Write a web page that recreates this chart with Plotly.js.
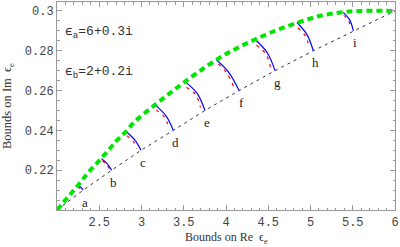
<!DOCTYPE html>
<html>
<head>
<meta charset="utf-8">
<script src="https://cdn.plot.ly/plotly-3.0.1.min.js"></script>
<style>
  html, body { margin: 0; padding: 0; background: #fff; }
  #grafico { width: 400px; height: 247px; }
</style>
</head>
<body>
<div id="grafico"></div>
<script>
// Curva verde (limite superior)
const verdeRe = [2.0, 2.134, 2.252, 2.370, 2.489, 2.607, 2.707, 2.805, 2.923, 3.160, 3.397, 3.653, 3.929, 4.166, 4.402, 4.639, 4.876, 5.112, 5.349, 5.586, 6.0];
const verdeIm = [0.2, 0.2067, 0.2126, 0.2188, 0.2243, 0.2299, 0.2349, 0.2389, 0.2445, 0.2528, 0.2607, 0.2687, 0.2766, 0.2821, 0.2868, 0.2910, 0.2945, 0.2975, 0.2992, 0.3, 0.3];

// Curva tracejada (limite inferior), pontos a..i incluídos
const inferiorRe = [2.0, 2.311, 2.647, 2.994, 3.376, 3.751, 4.155, 4.580, 5.033, 5.507, 6.0];
const inferiorIm = [0.2, 0.21, 0.22, 0.23, 0.24, 0.25, 0.26, 0.27, 0.28, 0.29, 0.3];

const letras = ['a', 'b', 'c', 'd', 'e', 'f', 'g', 'h', 'i'];

// Arcos azuis (topo, meio, fim)
const azulRe = [
    [2.245, 2.282, 2.311], [2.528, 2.595, 2.647], [2.82, 2.92, 2.994],
    [3.160, 3.292, 3.376], [3.515, 3.658, 3.751], [3.885, 4.03, 4.155],
    [4.343, 4.49, 4.580], [4.84, 4.96, 5.033], [5.388, 5.465, 5.507]
];
const azulIm = [
    [0.2124, 0.2113, 0.21], [0.2258, 0.2232, 0.22], [0.2393, 0.2352, 0.23],
    [0.2528, 0.2472, 0.24], [0.2645, 0.2586, 0.25], [0.2755, 0.2693, 0.26],
    [0.2858, 0.2789, 0.27], [0.2942, 0.2880, 0.28], [0.2993, 0.2954, 0.29]
];

// Arcos vermelhos tracejados
const vermelhoRe = [
    [2.243, 2.272, 2.29], [2.535, 2.585, 2.622], [2.827, 2.9, 2.947],
    [3.173, 3.273, 3.325], [3.531, 3.639, 3.697], [3.91, 4.01, 4.091],
    [4.36, 4.473, 4.525], [4.85, 4.94, 4.985], [5.394, 5.453, 5.477]
];
const vermelhoIm = [
    [0.2117, 0.2108, 0.2101], [0.2248, 0.2228, 0.2206], [0.2373, 0.2346, 0.2309],
    [0.2503, 0.2466, 0.2413], [0.2617, 0.2580, 0.2516], [0.2734, 0.2688, 0.2619],
    [0.2828, 0.2783, 0.2718], [0.2914, 0.2874, 0.2817], [0.2978, 0.2950, 0.2910]
];

const xTicks = [2.5, 3, 3.5, 4, 4.5, 5, 5.5, 6];
const xTickText = ['2.5', '3', '3.5', '4', '4.5', '5', '5.5', '6'];
const yTicks = [0.22, 0.24, 0.26, 0.28, 0.3];
const yTickText = ['0.22', '0.24', '0.26', '0.28', '0.3'];

const traces = [];

traces.push({
    x: inferiorRe, y: inferiorIm, mode: 'lines', type: 'scatter',
    line: { color: '#333', width: 1, dash: '3px,4px' }, hoverinfo: 'skip'
});

letras.forEach((l, k) => {
    traces.push({
        x: vermelhoRe[k], y: vermelhoIm[k], mode: 'lines', type: 'scatter',
        line: { color: '#ff0000', width: 1.2, dash: '3px,5px', shape: 'spline' }
    });
    traces.push({
        x: azulRe[k], y: azulIm[k], mode: 'lines', type: 'scatter',
        line: { color: '#0000ff', width: 1.2, shape: 'spline' }
    });
});

traces.push({
    x: verdeRe, y: verdeIm, mode: 'lines', type: 'scatter',
    line: { color: '#00e600', width: 4, dash: '6px,4px', shape: 'spline' }
});

const anotacoes = letras.map((l, k) => ({
    x: inferiorRe[k + 1], y: inferiorIm[k + 1], text: l, showarrow: false,
    xanchor: 'center', yanchor: 'middle', xshift: 2, yshift: -12,
    font: { family: 'Liberation Serif', size: 13, color: '#222' }
}));

anotacoes.push({
    x: 2.07, y: 0.2894, xanchor: 'left', yanchor: 'middle', showarrow: false,
    text: 'ϵ<sub>a</sub>=6+0.3i',
    font: { family: 'Liberation Mono', size: 13, color: '#333' }
});
anotacoes.push({
    x: 2.07, y: 0.2693, xanchor: 'left', yanchor: 'middle', showarrow: false,
    text: 'ϵ<sub>b</sub>=2+0.2i',
    font: { family: 'Liberation Mono', size: 13, color: '#333' }
});

// título do eixo x como anotação, para controlar a posição
anotacoes.push({
    xref: 'paper', yref: 'paper', x: 0.5, y: -0.135, xanchor: 'center', yanchor: 'middle',
    showarrow: false, text: 'Bounds on Re  ϵ<sub>e</sub>',
    font: { family: 'Liberation Serif', size: 12, color: '#333' }
});

const eixoBase = {
    showgrid: false, zeroline: false, showline: true, linecolor: '#999', linewidth: 1,
    mirror: 'ticks', ticks: 'inside', ticklen: 5, tickcolor: '#999',
    tickfont: { family: 'Liberation Mono', size: 12, color: '#444' }
};

const layout = {
    width: 400, height: 247,
    margin: { l: 57, r: 5, t: 2, b: 37 },
    paper_bgcolor: '#fff', plot_bgcolor: '#fff',
    showlegend: false,
    xaxis: Object.assign({}, eixoBase, {
        range: [2, 6], tickvals: xTicks, ticktext: xTickText, ticklabelstandoff: 1,
        minor: { dtick: 0.1, tick0: 2, ticks: 'inside', ticklen: 2.5, tickcolor: '#999' }
    }),
    yaxis: Object.assign({}, eixoBase, {
        range: [0.2, 0.3045], tickvals: yTicks, ticktext: yTickText,
        minor: { dtick: 0.005, tick0: 0.2, ticks: 'inside', ticklen: 2.5, tickcolor: '#999' },
        title: { text: 'Bounds on Im  ϵ<sub>e</sub>', standoff: 10,
                 font: { family: 'Liberation Serif', size: 12.5, color: '#333' } }
    }),
    annotations: anotacoes
};

Plotly.newPlot('grafico', traces, layout, { staticPlot: true, displayModeBar: false });
</script>
</body>
</html>
